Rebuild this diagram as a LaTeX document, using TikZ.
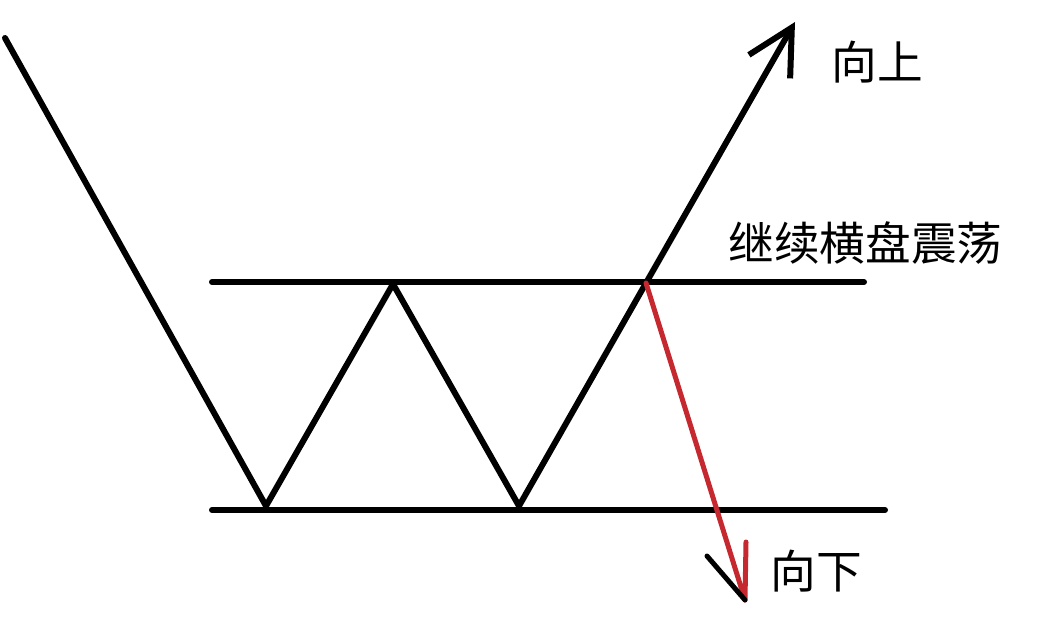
\documentclass[tikz,border=0pt]{standalone}
\usepackage{fontspec}
\newfontfamily\cjk{Noto Sans CJK SC}
\usetikzlibrary{arrows.meta}
\definecolor{downred}{RGB}{198,40,48}
\tikzset{
  trend/.style={line width=0.12cm,line cap=round,line join=round},
  label/.style={anchor=west,inner sep=0pt,font=\cjk\fontsize{26}{30}\selectfont}
}
\begin{document}
\begin{tikzpicture}[x=0.02cm,y=-0.02cm]
		\useasboundingbox (0,0) rectangle (1048,622);
		\coordinate (s) at (5,38);
		\coordinate (v1) at (266,506);
		\coordinate (p1) at (393,284);
		\coordinate (v2) at (519,506);
		\coordinate (p2) at (646,283);
		\coordinate (up) at (795,22);
		\coordinate (down) at (745,600);
		\coordinate (lbarb) at (707,556);
		\coordinate (rbarb) at (746,542);
		\coordinate (tl) at (212,282) ;
		\coordinate (tr) at (864,282);
		\coordinate (bl) at (212,510);
		\coordinate (br) at (885,510);
		\draw[trend] (tl)--(tr) (bl)--(br);
		\draw[trend] (s)--(v1)--(p1)--(v2)--(p2);
		\draw[trend,-{Straight Barb[length=0.9cm,width=0.95cm,line width=0.12cm]}] (p2)--(up);
		\draw[trend,downred,line width=0.1cm] (p2)--(down) (rbarb)--(down);
		\draw[trend,line width=0.1cm] (lbarb)--(down);
		\node[label](l1) at (831,62) {向上};
		\node[label](l2) at (728,243) {继续横盘震荡};
		\node[label](l3) at (770,571) {向下};
	\end{tikzpicture}
\end{document}
